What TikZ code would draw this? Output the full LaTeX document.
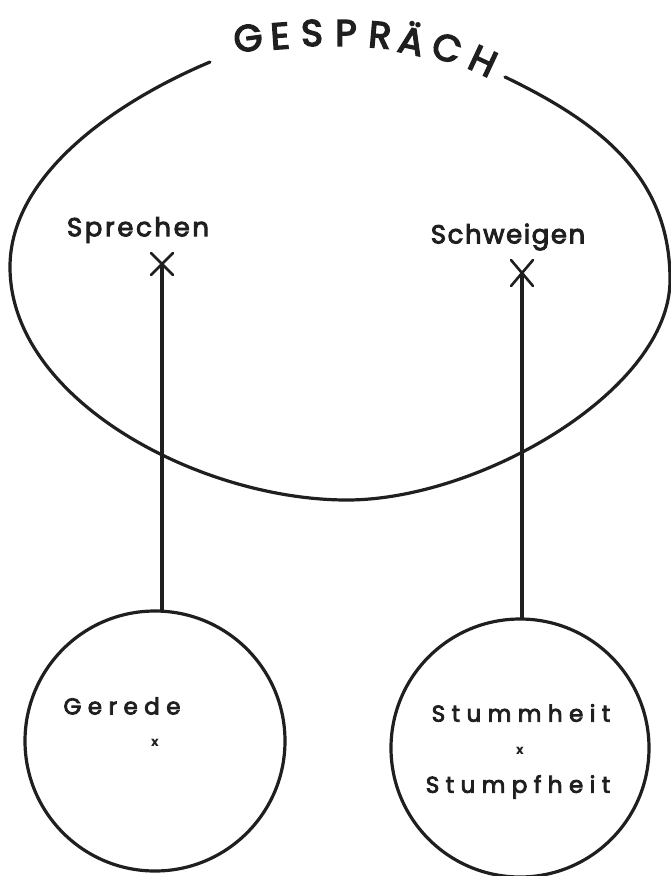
\documentclass[tikz,border=0pt]{standalone}
\usepackage{fontspec}
\setmainfont{Poppins}
\usetikzlibrary{calc}
\begin{document}
\begin{tikzpicture}[x=1pt,y=-1pt,
  ink/.style={draw=black!88, line width=3.2pt, line cap=round},
  cross/.style={draw=black!88, line width=2.6pt, line cap=round},
  bigletter/.style={font=\fontsize{37}{37}\selectfont\addfontfeatures{FakeBold=4}, text=black!88, inner sep=0pt},
  lab/.style={font=\fontsize{26}{26}\selectfont\addfontfeatures{LetterSpace=6,FakeBold=3.5}, text=black!88, inner sep=0pt},
  sublab/.style={font=\fontsize{23}{23}\selectfont\addfontfeatures{LetterSpace=28,FakeBold=3.5}, text=black!88, inner sep=0pt},
  blob/.style={circle, draw=black!88, line width=3.2pt, inner sep=0pt},
  tinyx/.style={font=\fontsize{13}{13}\selectfont\bfseries, text=black!88, inner sep=0pt}]
\useasboundingbox (0,0) rectangle (671,876);

% Gespraech outline (open at the top for the title)
\coordinate (r0) at (505,77);
\coordinate (ee) at (670,280);
\coordinate (bb) at (347,500);
\coordinate (ww) at (10,267);
\coordinate (l0) at (210,62);
\draw[ink] (r0) .. controls (605,125) and (670,180) .. (ee)
  .. controls (670,390) and (480,500) .. (bb)
  .. controls (200,500) and (10,400) .. (ww)
  .. controls (10,175) and (115,102) .. (l0);

% title letters along the arc
\node[bigletter, rotate=8]   (t1) at (248,38) {G};
\node[bigletter, rotate=4]   (t2) at (280,36) {E};
\node[bigletter, rotate=2]   (t3) at (312,33) {S};
\node[bigletter, rotate=0]   (t4) at (346,33) {P};
\node[bigletter, rotate=-5]  (t5) at (380,35) {R};
\node[bigletter, rotate=-12] (t6) at (412,38) {Ä};
\node[bigletter, rotate=-18] (t7) at (447,48) {C};
\node[bigletter, rotate=-25] (t8) at (483,61) {H};

% labels in the big outline
\node[lab, font=\fontsize{26}{26}\selectfont\addfontfeatures{LetterSpace=10,FakeBold=3.5}] (sprechen) at (138,230) {Sprechen};
\node[lab] (schweigen) at (508,237) {Schweigen};

% crosses
\coordinate (sx) at (162,264);
\coordinate (wx) at (522,273);
\draw[cross] ($(sx)+(-11,-11)$) -- ($(sx)+(11,11)$);
\draw[cross] ($(sx)+(11,-11)$) -- ($(sx)+(-11,11)$);
\draw[cross] ($(wx)+(-11,-13)$) -- ($(wx)+(11,13)$);
\draw[cross] ($(wx)+(11,-13)$) -- ($(wx)+(-11,13)$);

% lower circles
\node[blob, minimum size=260pt] (gc) at (155,741) {};
\node[blob, minimum size=258pt] (sc) at (520,748) {};

\node[sublab] (gerede) at (122,706) {Gerede};
\node[tinyx] (gx) at (155,743) {x};
\node[sublab] (stumm) at (521,713) {Stummheit};
\node[tinyx] (sx2) at (520,751) {x};
\node[sublab] (stumpf) at (518,787) {Stumpfheit};

% connectors
\draw[ink] (sx) -- (sx |- gc.north);
\draw[ink] (wx) -- (wx |- sc.north);
\end{tikzpicture}
\end{document}
